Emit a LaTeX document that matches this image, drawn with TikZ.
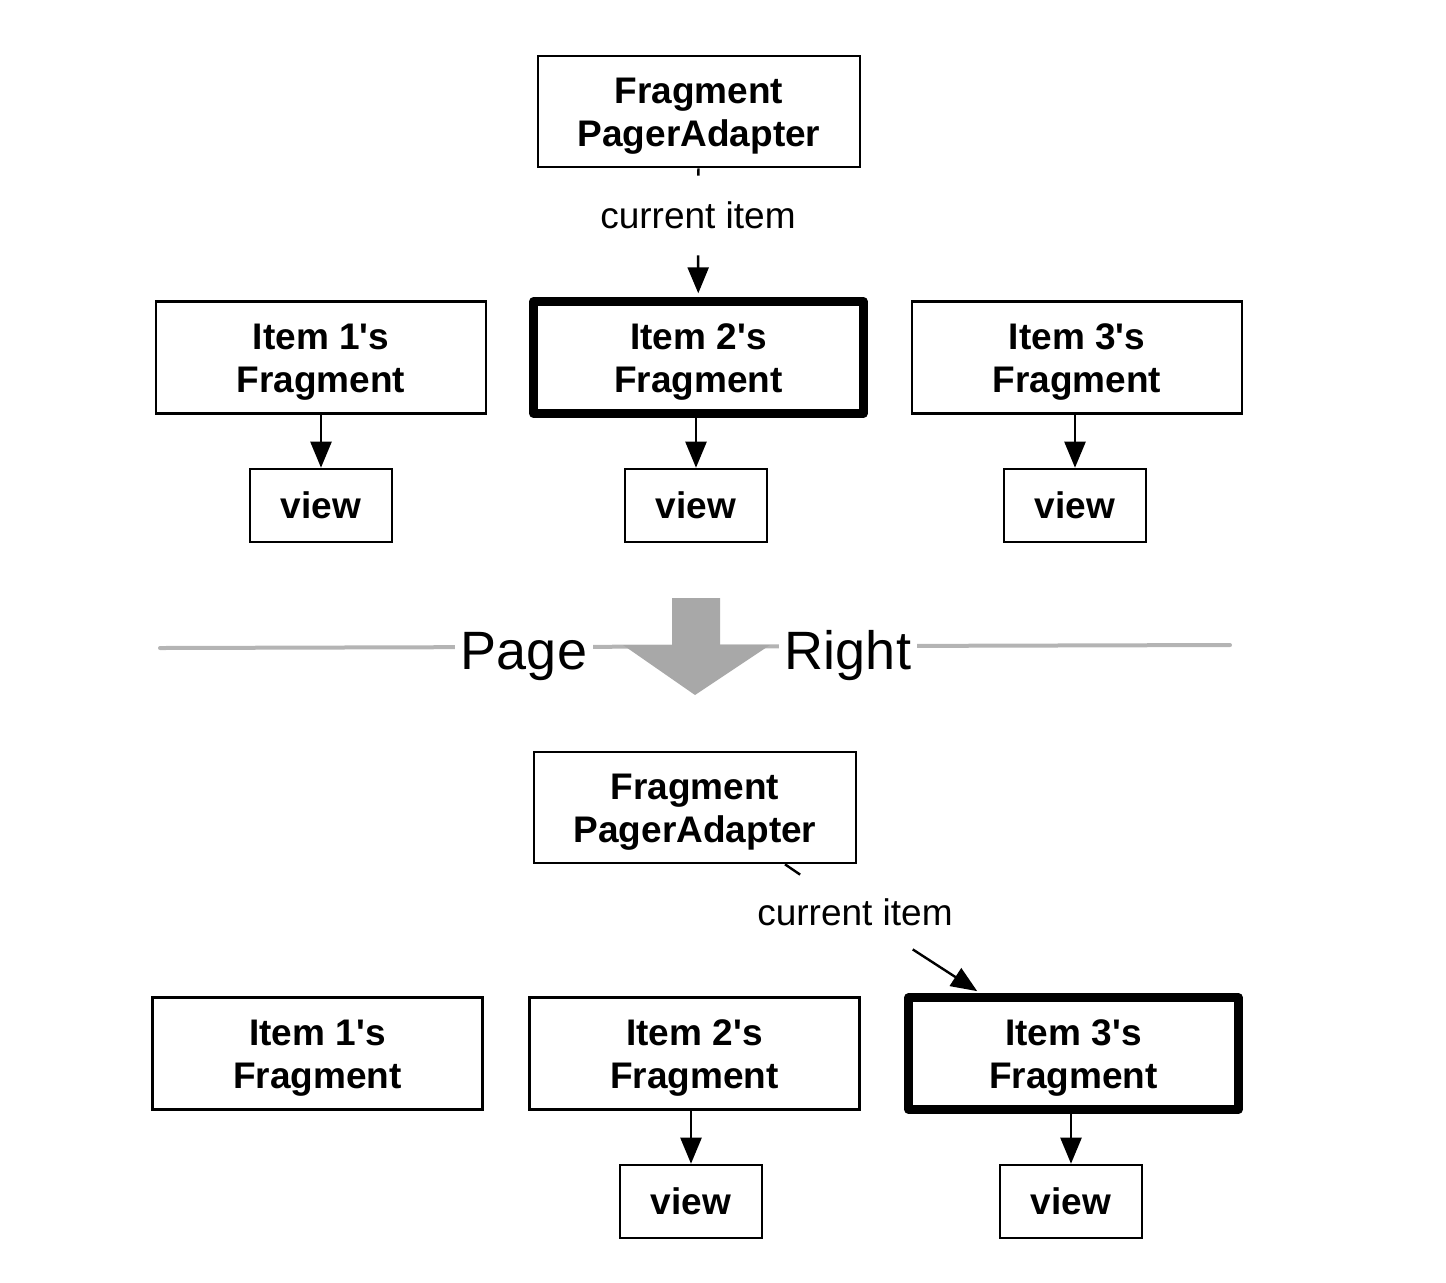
\documentclass[tikz,border=0pt]{standalone}
\usepackage{fontspec}
\setmainfont{Liberation Sans}[Ligatures=TeXOff]
\usetikzlibrary{arrows.meta}
\definecolor{lgray}{HTML}{B4B4B4}
\definecolor{agray}{HTML}{A8A8A8}
\newcommand\lowr{\rule{0pt}{17.3pt}}
\begin{document}
\begin{tikzpicture}[x=0.5pt,y=-0.5pt,
  box/.style={draw=black, line width=1.3pt, inner sep=0pt, minimum width=165pt, minimum height=56pt, align=center, font=\bfseries\fontsize{18.5}{21.5}\selectfont},
  curbox/.style={box, line width=4.2pt, line join=round},
  viewbox/.style={box, minimum width=71pt, minimum height=36.5pt},
  adapter/.style={box, minimum width=161pt, minimum height=55.5pt},
  lbl/.style={inner sep=0pt, font=\fontsize{18.5}{22}\selectfont, minimum width=100pt},
  conn/.style={line width=1.2pt},
  arr/.style={conn, -{Triangle[length=13pt,width=10.5pt]}},
  big/.style={fill=white, inner xsep=3pt, inner ysep=0pt, anchor=base, font=\fontsize{27}{30}\selectfont}]

\useasboundingbox (0,0) rectangle (1446,1282);

% ---------- top state ----------
\node[adapter] (ad1) at (699,111.5) {\lowr Fragment\\PagerAdapter};
\node[box] (i1a) at (321,357.5) {\lowr Item 1's\\Fragment};
\node[curbox] (i2a) at (698.5,357.5) {\lowr Item 2's\\Fragment};
\node[box] (i3a) at (1077,357.5) {\lowr Item 3's\\Fragment};
\node[viewbox] (v1a) at (321,505.5) {view};
\node[viewbox] (v2a) at (696,505.5) {view};
\node[viewbox] (v3a) at (1075,505.5) {view};

\node[lbl, minimum height=39.5pt] (c1) at (698,215.5) {current item};
\draw[conn] (ad1) -- (c1);
\draw[arr, shorten >=2pt] (c1) -- (i2a);

\draw[arr] (i1a.south -| v1a) -- (v1a);
\draw[arr] (i2a.south -| v2a) -- (v2a);
\draw[arr] (i3a.south -| v3a) -- (v3a);

% ---------- page right ----------
\draw[line width=2pt, lgray, line cap=round] (160,648) -- (1230,645);
\fill[agray] (672,598) -- (720,598) -- (720,645) -- (770,645) -- (695,695) -- (623,645) -- (672,645) -- cycle;
\node[big] (pg) at (524,669) {Page};
\node[big] (rt) at (848,669) {Right};

% ---------- bottom state ----------
\node[adapter] (ad2) at (695,807.5) {\lowr Fragment\\PagerAdapter};
\node[box] (i1b) at (317.5,1053.5) {\lowr Item 1's\\Fragment};
\node[box] (i2b) at (694.5,1053.5) {\lowr Item 2's\\Fragment};
\node[curbox] (i3b) at (1073.5,1053.5) {\lowr Item 3's\\Fragment};
\node[viewbox] (v2b) at (691,1201.5) {view};
\node[viewbox] (v3b) at (1071,1201.5) {view};

\node[lbl, minimum height=37pt] (c2) at (855,912) {current item};
\path (ad2.south) ++(90,0) coordinate (ad2t);
\draw[conn] (ad2t) -- (c2);
\draw[arr, shorten >=2pt] (c2) -- (i3b);

\draw[arr] (i2b.south -| v2b) -- (v2b);
\draw[arr] (i3b.south -| v3b) -- (v3b);
\end{tikzpicture}
\end{document}
